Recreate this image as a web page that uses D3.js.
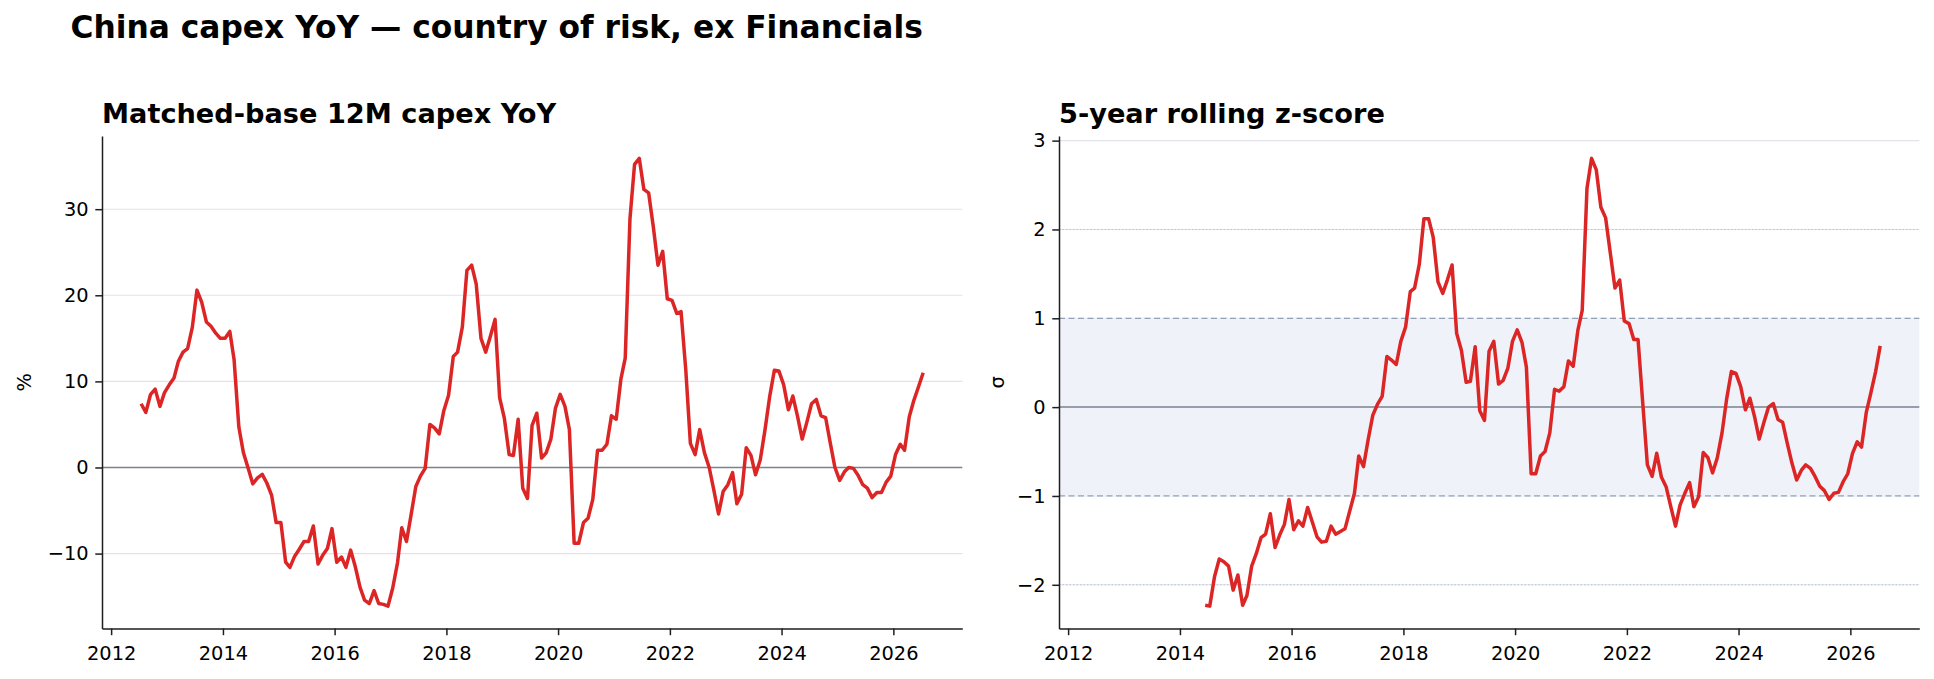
<!DOCTYPE html>
<html lang="en">
<head>
    <meta charset="UTF-8">
    <title>China capex YoY</title>
    <script src="https://d3js.org/d3.v7.min.js"></script>
    <style>
        body { margin: 0; background: #fff; }
        svg { display: block; font-family: "DejaVu Sans", sans-serif; }
        .axis path, .axis line { stroke: #1e1e1e; stroke-width: 1.5; }
        .axis text { font-size: 19.4px; fill: #000; font-family: "DejaVu Sans", sans-serif; }
        .grid line { stroke: #e1e3ea; stroke-width: 1.1; }
        .series { fill: none; stroke: #dc2626; stroke-width: 3.5; stroke-linejoin: round; }
        .zero { stroke: #7b8190; stroke-width: 1.5; }
    </style>
</head>
<body>
<svg width="1934" height="679"></svg>
<script>
    // monthly series, first point July 2012
    const firstYear = 2012, firstMonth = 6;

    // matched-base 12M capex YoY (%)
    const yoyValues = [
        7.4, 6.4, 8.5, 9.1, 7.1, 8.7, 9.6, 10.4, 12.3, 13.4, 13.8, 16.3,
        20.6, 19.2, 16.9, 16.4, 15.6, 15.0, 15.0, 15.8, 12.5, 4.7, 1.7, -0.1,
        -1.9, -1.2, -0.8, -1.8, -3.2, -6.4, -6.4, -11.0, -11.6, -10.3, -9.5, -8.6,
        -8.6, -6.8, -11.2, -10.2, -9.4, -7.1, -11.0, -10.4, -11.6, -9.6, -11.5, -13.9,
        -15.4, -15.8, -14.3, -15.8, -15.9, -16.1, -14.0, -11.1, -7.0, -8.6, -5.5, -2.2,
        -1.0, -0.1, 5.0, 4.6, 3.9, 6.6, 8.4, 12.9, 13.4, 16.3, 22.9, 23.5,
        21.3, 15.0, 13.4, 15.2, 17.2, 8.1, 5.7, 1.5, 1.4, 5.6, -2.4, -3.6,
        4.9, 6.3, 1.1, 1.7, 3.3, 6.9, 8.5, 7.1, 4.4, -8.8, -8.8, -6.4,
        -5.9, -3.7, 2.0, 2.0, 2.7, 6.0, 5.6, 10.3, 12.7, 28.9, 35.2, 35.9,
        32.3, 31.9, 27.9, 23.5, 25.1, 19.6, 19.4, 17.9, 18.1, 11.3, 2.8, 1.5,
        4.4, 1.7, 0.0, -2.6, -5.4, -2.8, -2.0, -0.6, -4.2, -3.1, 2.3, 1.4,
        -0.85, 0.9, 4.4, 8.2, 11.3, 11.2, 9.6, 6.7, 8.3, 5.9, 3.3, 5.3,
        7.4, 7.9, 6.0, 5.8, 2.8, 0.0, -1.5, -0.5, 0.0, -0.1, -0.9, -2.0,
        -2.4, -3.5, -2.9, -2.9, -1.7, -1.0, 1.5, 2.7, 2.0, 5.9, 7.8, 9.4,
        11.0
    ];

    // 5-year rolling z-score, starts at month index 23
    const zStart = 23;
    const zValues = [
        -2.23, -2.24, -1.91, -1.71, -1.74, -1.79, -2.06, -1.89, -2.23, -2.12, -1.79, -1.65, -1.47,
        -1.43, -1.20, -1.58, -1.44, -1.32, -1.04, -1.38, -1.28, -1.34, -1.13, -1.29, -1.46,
        -1.52, -1.51, -1.34, -1.43, -1.40, -1.37, -1.17, -0.97, -0.55, -0.67, -0.37, -0.09,
        0.03, 0.12, 0.57, 0.53, 0.48, 0.74, 0.90, 1.30, 1.34, 1.61, 2.12, 2.12,
        1.91, 1.41, 1.28, 1.43, 1.60, 0.83, 0.64, 0.28, 0.29, 0.68, -0.04, -0.15,
        0.63, 0.74, 0.26, 0.30, 0.44, 0.74, 0.87, 0.73, 0.45, -0.75, -0.75, -0.55,
        -0.50, -0.29, 0.20, 0.18, 0.23, 0.52, 0.46, 0.87, 1.09, 2.46, 2.80, 2.67,
        2.25, 2.13, 1.73, 1.34, 1.43, 0.97, 0.94, 0.76, 0.76, 0.04, -0.65, -0.78,
        -0.52, -0.79, -0.90, -1.12, -1.34, -1.10, -0.97, -0.85, -1.12, -1.01, -0.51, -0.57,
        -0.74, -0.57, -0.29, 0.09, 0.40, 0.38, 0.23, -0.03, 0.10, -0.11, -0.36, -0.17,
        0.00, 0.04, -0.14, -0.17, -0.41, -0.63, -0.82, -0.71, -0.65, -0.69, -0.78, -0.89,
        -0.94, -1.04, -0.97, -0.96, -0.84, -0.75, -0.52, -0.39, -0.45, -0.06, 0.16, 0.40,
        0.69
    ];

    const yearTicks = [2012, 2014, 2016, 2018, 2020, 2022, 2024, 2026];
    const yoyTicks = [-10, 0, 10, 20, 30];
    const zTicks = [-2, -1, 0, 1, 2, 3];
    const zBand = [-1, 1];
    const zGuides = [-2, 2];

    const svg = d3.select("svg");

    // figure title
    svg.append("text")
        .attr("x", 70.5)
        .attr("y", 37.5)
        .style("font-size", "31.3px")
        .style("font-weight", "bold")
        .text("China capex YoY \u2014 country of risk, ex Financials");

    const dates = yoyValues.map((v, i) => new Date(firstYear, firstMonth + i, 15));
    const yoyData = yoyValues.map((v, i) => ({date: dates[i], value: v}));
    const zData = zValues.map((v, i) => ({date: dates[zStart + i], value: v}));

    const fmt = d => d < 0 ? "\u2212" + Math.abs(d) : String(d);

    // padded domain (5% margins, like matplotlib)
    function padded(ext) {
        const p = (ext[1] - ext[0]) * 0.05;
        return [ext[0] - p, ext[1] + p];
    }
    const tExt = d3.extent(dates).map(d => +d);
    const xDomain = padded(tExt).map(t => new Date(t));

    const plotTop = 136, plotH = 628.5 - 136, plotW = 860.3;

    function panel(opts) {
        const g = svg.append("g").attr("transform", `translate(${opts.left},${plotTop})`);

        const x = d3.scaleTime().domain(xDomain).range([0, plotW]);
        const y = d3.scaleLinear().domain(padded(d3.extent(opts.data, d => d.value))).range([plotH, 0]);

        // grid
        g.append("g").attr("class", "grid")
            .selectAll("line").data(opts.ticks.filter(t => t !== 0))
            .join("line")
            .attr("x1", 0).attr("x2", plotW)
            .attr("y1", d => y(d)).attr("y2", d => y(d));

        if (opts.band) {
            g.append("rect")
                .attr("x", 0).attr("width", plotW)
                .attr("y", y(opts.band[1]))
                .attr("height", y(opts.band[0]) - y(opts.band[1]))
                .attr("fill", "#eff2f8");
            g.selectAll(".band-edge").data(opts.band).join("line")
                .attr("class", "band-edge")
                .attr("x1", 0).attr("x2", plotW)
                .attr("y1", d => y(d)).attr("y2", d => y(d))
                .attr("stroke", "#93a1b8").attr("stroke-width", 1.3)
                .attr("stroke-dasharray", "6,3.5");
            g.selectAll(".guide").data(opts.guides).join("line")
                .attr("class", "guide")
                .attr("x1", 0).attr("x2", plotW)
                .attr("y1", d => y(d)).attr("y2", d => y(d))
                .attr("stroke", "#b9c3d3").attr("stroke-width", 1)
                .attr("stroke-dasharray", "1.5,2");
        }

        g.append("line").attr("class", "zero")
            .attr("x1", 0).attr("x2", plotW)
            .attr("y1", y(0)).attr("y2", y(0));

        g.append("path").datum(opts.data)
            .attr("class", "series")
            .attr("d", d3.line().x(d => x(d.date)).y(d => y(d.value)));

        // axes
        g.append("g").attr("class", "axis")
            .attr("transform", `translate(0,${plotH})`)
            .call(d3.axisBottom(x)
                .tickValues(yearTicks.map(yr => new Date(yr, 0, 1)))
                .tickFormat(d3.timeFormat("%Y"))
                .tickSize(6.7).tickSizeOuter(0).tickPadding(6.7))
            .selectAll("text").attr("dy", "0.95em");

        g.append("g").attr("class", "axis")
            .call(d3.axisLeft(y)
                .tickValues(opts.ticks)
                .tickFormat(fmt)
                .tickSize(6.7).tickSizeOuter(0).tickPadding(6.7));

        svg.selectAll(".axis path").attr("fill", "none");

        // panel title
        g.append("text")
            .attr("x", 0).attr("y", 123.3 - plotTop)
            .style("font-size", "27.2px")
            .style("font-weight", "bold")
            .text(opts.title);

        // y label
        g.append("text")
            .attr("transform", `translate(${opts.labelX},${plotH / 2}) rotate(-90)`)
            .attr("text-anchor", "middle")
            .attr("dy", "0.35em")
            .style("font-size", "19.4px")
            .text(opts.label);
    }

    panel({left: 102, data: yoyData, ticks: yoyTicks,
           title: "Matched-base 12M capex YoY", label: "%", labelX: -78});
    panel({left: 1059, data: zData, ticks: zTicks, band: zBand, guides: zGuides,
           title: "5-year rolling z-score", label: "\u03c3", labelX: -62});
</script>
</body>
</html>
